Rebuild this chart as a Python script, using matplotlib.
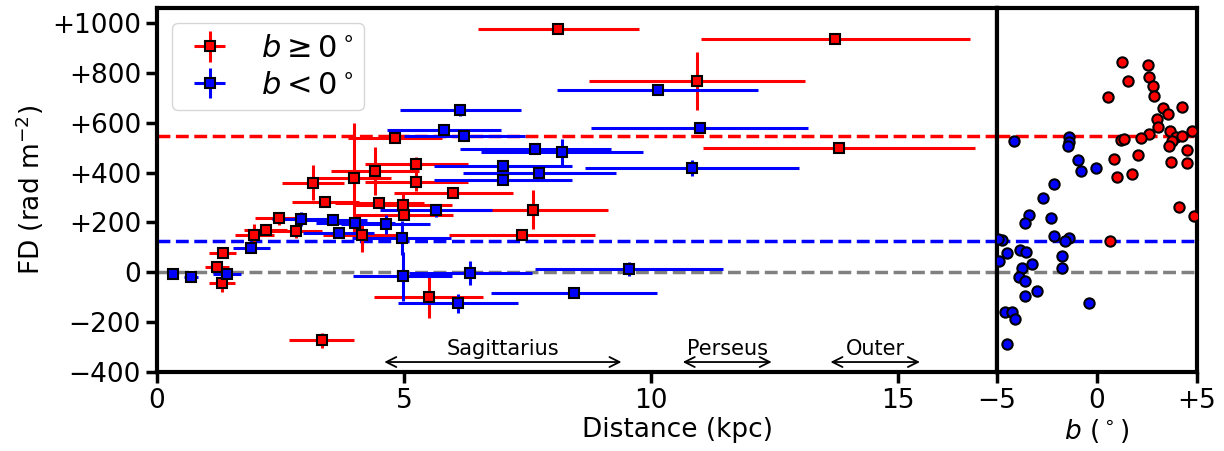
import matplotlib
matplotlib.use("Agg")
import matplotlib.pyplot as plt
from matplotlib.ticker import FuncFormatter

# distance panel, b >= 0 (red)
dist_pos = [8.12, 13.73, 10.93, 13.80, 4.81, 3.98, 4.42, 5.25, 5.25, 6.00, 3.15, 3.41, 4.50, 4.98,
            5.00, 2.47, 2.20, 2.82, 1.97, 4.15, 1.33, 1.21, 1.31, 3.33, 5.50, 7.61, 7.39]
dist_err_pos = [1.63, 2.73, 2.18, 2.76, 0.95, 0.75, 0.89, 1.05, 1.05, 1.20, 0.63, 0.68, 0.90, 0.99,
                1.00, 0.49, 0.43, 0.52, 0.39, 0.80, 0.27, 0.24, 0.26, 0.66, 1.10, 1.52, 1.48]
fd_pos = [976, 936, 767, 500, 539, 379, 405, 433, 364, 319, 360, 280, 279, 271,
          231, 216, 171, 164, 148, 148, 76, 21, -43, -273, -100, 251, 149]
fd_err_pos = [0, 0, 115, 21, 0, 220, 97, 30, 40, 0, 70, 0, 0, 43,
              0, 27, 0, 25, 45, 66, 0, 0, 36, 29, 82, 79, 0]

# distance panel, b < 0 (blue)
dist_neg = [10.13, 10.98, 10.83, 7.66, 8.19, 7.00, 7.74, 7.00, 6.14, 5.81, 6.22, 5.65, 2.91, 3.56,
            4.01, 4.63, 3.68, 4.95, 1.91, 0.32, 0.68, 1.41, 4.97, 6.34, 9.55, 6.09, 8.43]
dist_err_neg = [2.03, 2.20, 2.16, 1.53, 1.64, 1.40, 1.55, 1.40, 1.22, 1.15, 1.22, 1.13, 0.58, 0.70,
                0.80, 0.90, 0.72, 1.00, 0.38, 0.06, 0.14, 0.28, 1.00, 1.25, 1.90, 1.22, 1.68]
fd_neg = [731, 580, 420, 495, 484, 428, 400, 371, 649, 569, 548, 248, 213, 211,
          199, 192, 156, 137, 96, -8, -20, -8, -16, -3, 12, -125, -85]
fd_err_neg = [0, 0, 32, 0, 52, 0, 0, 0, 23, 0, 0, 27, 29, 0,
              0, 39, 0, 68, 0, 0, 0, 0, 98, 49, 28, 37, 0]

# latitude panel
b_pos = [1.27, 2.57, 1.57, 2.59, 2.82, 2.86, 0.57, 3.29, 4.24, 3.57, 2.99, 3.06, 3.66, 4.76, 2.59, 2.19,
         1.20, 1.33, 3.96, 4.26, 3.74, 3.62, 4.49, 2.04, 0.83, 3.71, 4.51, 1.02, 1.73, 4.09, 4.83, 0.67]
fdb_pos = [843, 832, 768, 784, 749, 709, 704, 659, 661, 635, 615, 584, 568, 565, 555, 540,
           531, 533, 544, 548, 525, 505, 489, 471, 456, 444, 437, 384, 393, 263, 227, 125]
b_neg = [-4.13, -1.39, -1.42, -1.45, -0.97, -0.80, -0.05, -2.14, -2.68, -3.39, -3.58, -2.29, -2.16,
         -1.42, -1.59, -4.73, -4.95, -4.90, -4.48, -3.86, -3.56, -3.24, -3.74, -3.89, -3.59, -1.77,
         -1.74, -2.98, -3.58, -0.39, -4.61, -4.23, -4.11, -4.48]
fdb_neg = [527, 544, 523, 507, 449, 408, 419, 353, 299, 231, 197, 219, 145,
           139, 125, 131, 133, 45, 77, 88, 81, 35, 19, -19, -36, 64,
           17, -76, -97, -124, -159, -160, -188, -289]

fd_mean_pos = 545
fd_mean_neg = 125

arms = ['Sagittarius', 'Perseus', 'Outer']
arm_start = [4.6, 10.64, 13.63]
arm_end = [9.4, 12.44, 15.44]


def plus_fmt(v, pos):
    if v > 0:
        return '+%d' % v
    if v < 0:
        return '\u2212%d' % abs(v)
    return '0'


fs = 19
plt.rcParams['font.size'] = fs

fig = plt.figure(figsize=(12.24, 4.51), dpi=100)
ax = fig.add_axes([157/1224, 1 - 372/451, 840/1224, 364/451])
ax2 = fig.add_axes([997/1224, 1 - 372/451, 200/1224, 364/451], sharey=ax)

for a in (ax, ax2):
    a.axhline(fd_mean_pos, color='red', ls='--', lw=2.5, zorder=1)
    a.axhline(fd_mean_neg, color='blue', ls='--', lw=2.5, zorder=1)
    a.axhline(0, color='gray', ls='--', lw=2.5, zorder=1)
    for s in a.spines.values():
        s.set_linewidth(3)
    a.tick_params(width=2.5, length=8, labelsize=fs)

ax.errorbar(dist_pos, fd_pos, xerr=dist_err_pos, yerr=fd_err_pos, fmt='s', color='red',
            mec='black', mew=1.5, ms=7.5, elinewidth=2.2, capsize=0, label=r'$b \geq 0^\circ$')
ax.errorbar(dist_neg, fd_neg, xerr=dist_err_neg, yerr=fd_err_neg, fmt='s', color='blue',
            mec='black', mew=1.5, ms=7.5, elinewidth=2.2, capsize=0, label=r'$b < 0^\circ$')

# spiral arm ranges
for name, x0, x1 in zip(arms, arm_start, arm_end):
    ax.annotate('', xy=(x0, -360), xytext=(x1, -360),
                arrowprops=dict(arrowstyle='<->', color='black', lw=1.3, mutation_scale=18,
                                shrinkA=0, shrinkB=0))
    ax.text((x0 + x1) / 2, -308, name, ha='center', va='center', fontsize=15)

ax.set_xlim(0, 17)
ax.set_ylim(-400, 1060)
ax.set_xticks([0, 5, 10, 15])
ax.set_yticks(range(-400, 1001, 200))
ax.yaxis.set_major_formatter(FuncFormatter(plus_fmt))
ax.set_ylabel(r'FD (rad m$^{-2}$)', fontsize=fs)
ax.legend(loc='upper left', fontsize=22, handlelength=1.75, handletextpad=0.8,
          labelspacing=0.25, borderpad=0.35)

ax2.scatter(b_neg, fdb_neg, s=55, color='blue', edgecolors='black', linewidths=1.5, zorder=3)
ax2.scatter(b_pos, fdb_pos, s=55, color='red', edgecolors='black', linewidths=1.5, zorder=3)
ax2.set_xlim(-5, 5)
ax2.set_xticks([-5, 0, 5])
ax2.xaxis.set_major_formatter(FuncFormatter(plus_fmt))
ax2.tick_params(axis='y', left=False, labelleft=False)
ax2.set_xlabel(r'$b$ ($^\circ$)', fontsize=fs, labelpad=2)

fig.text(677/1224, 1 - 430/451, 'Distance (kpc)', ha='center', va='center', fontsize=fs)

plt.savefig('out.png', dpi=100)
